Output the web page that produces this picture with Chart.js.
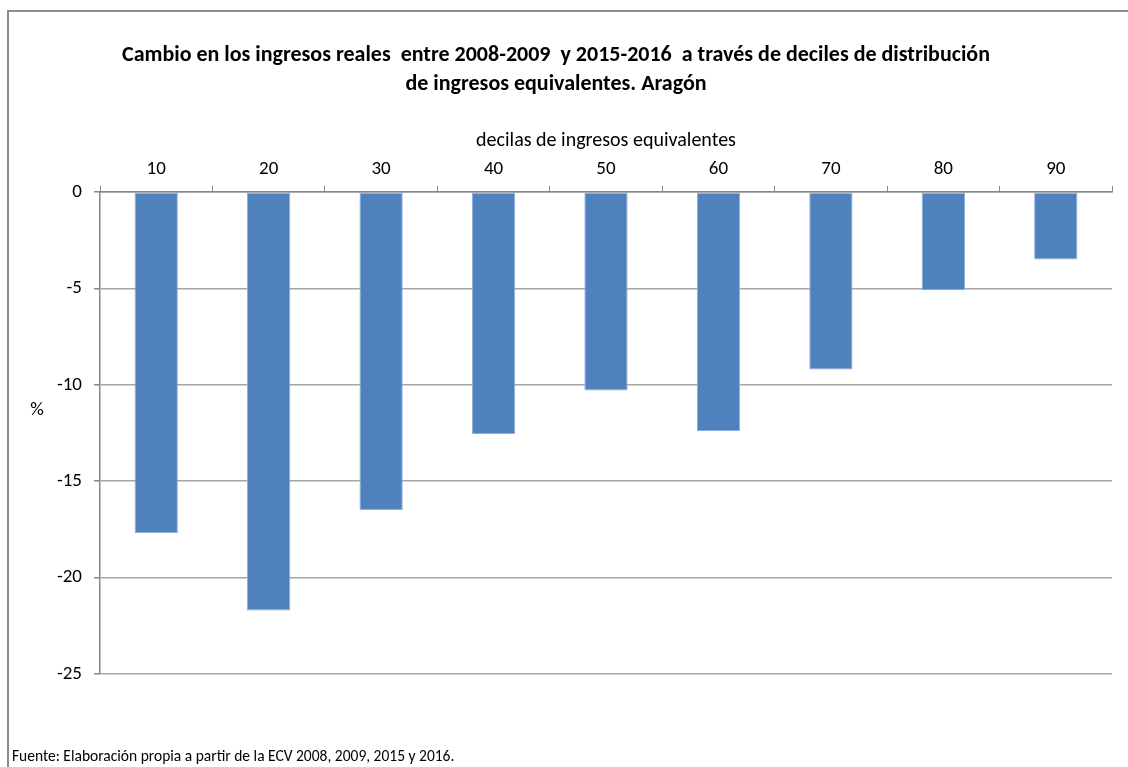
<!DOCTYPE html>
<html>
<head>
  <title>Cambio en los ingresos reales - Aragón</title>
  <script src="https://cdn.jsdelivr.net/npm/chart.js"></script>
  <style>
    html, body { margin: 0; padding: 0; overflow: hidden; background: #fff; }
    #frame { position: absolute; left: 7px; top: 10px; width: 1200px; height: 800px; border: 2px solid #8c8c8c; }
    #chart { position: absolute; left: 0; top: 0; }
  </style>
</head>
<body>
  <div id="frame"></div>
  <canvas id="chart" width="1128" height="767"></canvas>

  <script>
    // data
    const categories = ['10', '20', '30', '40', '50', '60', '70', '80', '90'];
    const values = [-17.7, -21.7, -16.5, -12.55, -10.3, -12.4, -9.2, -5.1, -3.5];
    const titleLines = [
      'Cambio en los ingresos reales  entre 2008-2009  y 2015-2016  a través de deciles de distribución',
      'de ingresos equivalentes. Aragón'
    ];
    const xTitle = 'decilas de ingresos equivalentes';
    const yTitle = '%';
    const source = 'Fuente: Elaboración propia a partir de la ECV 2008, 2009, 2015 y 2016.';

    const FONT = "Carlito, Calibri, 'Liberation Sans Narrow', 'Open Sans', sans-serif";

    // "%" label and source note
    const extraText = {
      id: 'extraText',
      afterDraw(chart) {
        const c = chart.ctx;
        c.save();
        c.fillStyle = '#000';
        c.font = '19px ' + FONT;
        c.textAlign = 'center';
        c.textBaseline = 'middle';
        c.fillText(yTitle, 37, 410);
        c.font = '15.5px ' + FONT;
        c.textAlign = 'left';
        c.fillText(source, 12, 757);
        c.restore();
      }
    };

    const ctx = document.getElementById('chart').getContext('2d');
    const chart = new Chart(ctx, {
      type: 'bar',
      data: {
        labels: categories,
        datasets: [{
          data: values,
          backgroundColor: '#4f81bd',
          borderColor: '#8eaedb',
          borderWidth: 1,
          borderSkipped: false,
          categoryPercentage: 1,
          barPercentage: 0.385
        }]
      },
      options: {
        responsive: false,
        devicePixelRatio: 1,
        animation: false,
        layout: { padding: { top: 0, left: 0, right: 16, bottom: 93 } },
        plugins: {
          legend: { display: false },
          tooltip: { enabled: false },
          title: {
            display: true,
            text: titleLines,
            color: '#000',
            font: { family: FONT, size: 22, weight: 'bold', lineHeight: 29 / 22 },
            padding: { top: 40.5, bottom: 16.5 }
          }
        },
        scales: {
          x: {
            position: 'top',
            grid: { drawOnChartArea: false, drawTicks: true, tickLength: 6, color: '#868686', offset: true },
            border: { color: '#868686', width: 1.5 },
            ticks: { color: '#000', padding: 5, font: { family: FONT, size: 19, lineHeight: 24 / 19 } },
            title: {
              display: true,
              text: xTitle,
              color: '#000',
              font: { family: FONT, size: 20, lineHeight: 1.2 },
              padding: { top: 14, bottom: 0 }
            },
            afterFit(scale) { scale.height = 77; }
          },
          y: {
            min: -25,
            max: 0,
            ticks: { stepSize: 5, color: '#000', padding: 12, font: { family: FONT, size: 19 } },
            grid: { color: '#a6a6a6', lineWidth: 1.5, tickLength: 6, tickColor: '#868686' },
            border: { color: '#868686', width: 1.5 },
            afterFit(scale) { scale.width = 100; }
          }
        }
      },
      plugins: [extraText]
    });
  </script>
</body>
</html>
